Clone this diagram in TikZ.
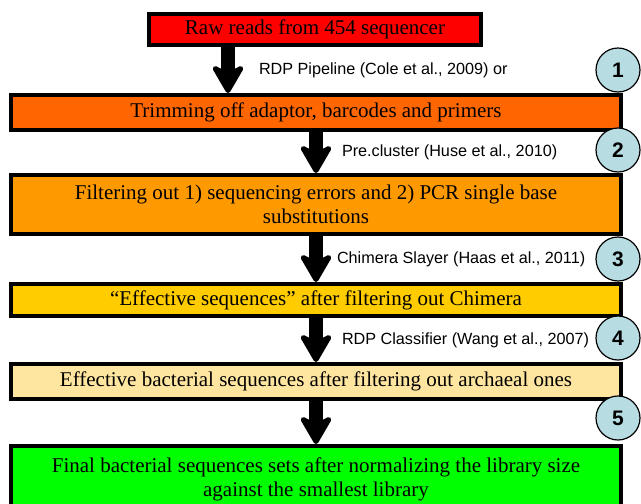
\documentclass[tikz,border=0pt]{standalone}
\usepackage{fontspec}
\setmainfont{Liberation Serif}
\newfontfamily\toolfont{Liberation Sans}
\usetikzlibrary{arrows.meta}

\definecolor{rawred}{RGB}{255,0,0}
\definecolor{trimorange}{RGB}{255,102,0}
\definecolor{filtorange}{RGB}{255,153,0}
\definecolor{effyellow}{RGB}{255,204,0}
\definecolor{bactyellow}{RGB}{255,230,160}
\definecolor{finalgreen}{RGB}{0,255,0}
\definecolor{stepblue}{RGB}{183,221,226}

\tikzset{
  stepbox/.style={draw=black,line width=4pt,minimum width=610pt,inner sep=0pt,align=center,font=\fontsize{21}{24}\selectfont},
  bigarrow/.style={line width=14pt,-{Stealth[length=33pt,width=38pt,inset=10pt,round,line width=5pt]}},
  tool/.style={anchor=west,inner sep=0pt,xshift=19pt,font=\toolfont\fontsize{16.2}{18}\selectfont},
  stepnum/.style={circle,draw=black,line width=1.2pt,fill=stepblue,minimum size=44pt,inner sep=0pt,font=\toolfont\bfseries\fontsize{21}{21}\selectfont}
}

\begin{document}
\begin{tikzpicture}[x=1pt,y=-1pt]
\useasboundingbox (0,0) rectangle (641,504);

\node[stepbox,fill=rawred,minimum width=332pt,minimum height=31pt] (raw) at (315,29.5) {Raw reads from 454 sequencer};
\node[stepbox,fill=trimorange,minimum height=35pt] (trim) at (316,112.5) {Trimming off adaptor, barcodes and primers};
\node[stepbox,fill=filtorange,minimum height=59pt] (filt) at (316,204.5) {Filtering out 1) sequencing errors and 2) PCR single base\\substitutions};
\node[stepbox,fill=effyellow,minimum height=32pt] (eff) at (316,300) {``Effective sequences'' after filtering out Chimera};
\node[stepbox,fill=bactyellow,minimum height=35pt] (bact) at (316,381.5) {Effective bacterial sequences after filtering out archaeal ones};
\node[stepbox,fill=finalgreen,minimum height=66pt] (final) at (316,479) {Final bacterial sequences sets after normalizing the library size\\against the smallest library};

% step numbers
\node[stepnum] (n1) at ([xshift=-5pt,yshift=23pt]trim.north east) {1};
\node[stepnum] (n2) at ([xshift=-5pt,yshift=23pt]filt.north east) {2};
\node[stepnum] (n3) at ([xshift=-5pt,yshift=23pt]eff.north east) {3};
\node[stepnum] (n4) at ([xshift=-5pt,yshift=24pt]bact.north east) {4};
\node[stepnum] (n5) at ([xshift=-5pt,yshift=26pt]final.north east) {5};

% arrows
\coordinate (a1) at (228,0);
\draw[bigarrow] (raw.south -| a1) -- node[tool,xshift=5pt] {RDP Pipeline (Cole et al., 2009) or} (trim.north -| a1);
\draw[bigarrow] (trim.south) -- node[tool] {Pre.cluster (Huse et al., 2010)} (filt.north);
\draw[bigarrow] (filt.south) -- node[tool,xshift=-5pt] {Chimera Slayer (Haas et al., 2011)} (eff.north);
\draw[bigarrow] (eff.south) -- node[tool] {RDP Classifier (Wang et al., 2007)} (bact.north);
\draw[bigarrow] (bact.south) -- (final.north);
\end{tikzpicture}
\end{document}
